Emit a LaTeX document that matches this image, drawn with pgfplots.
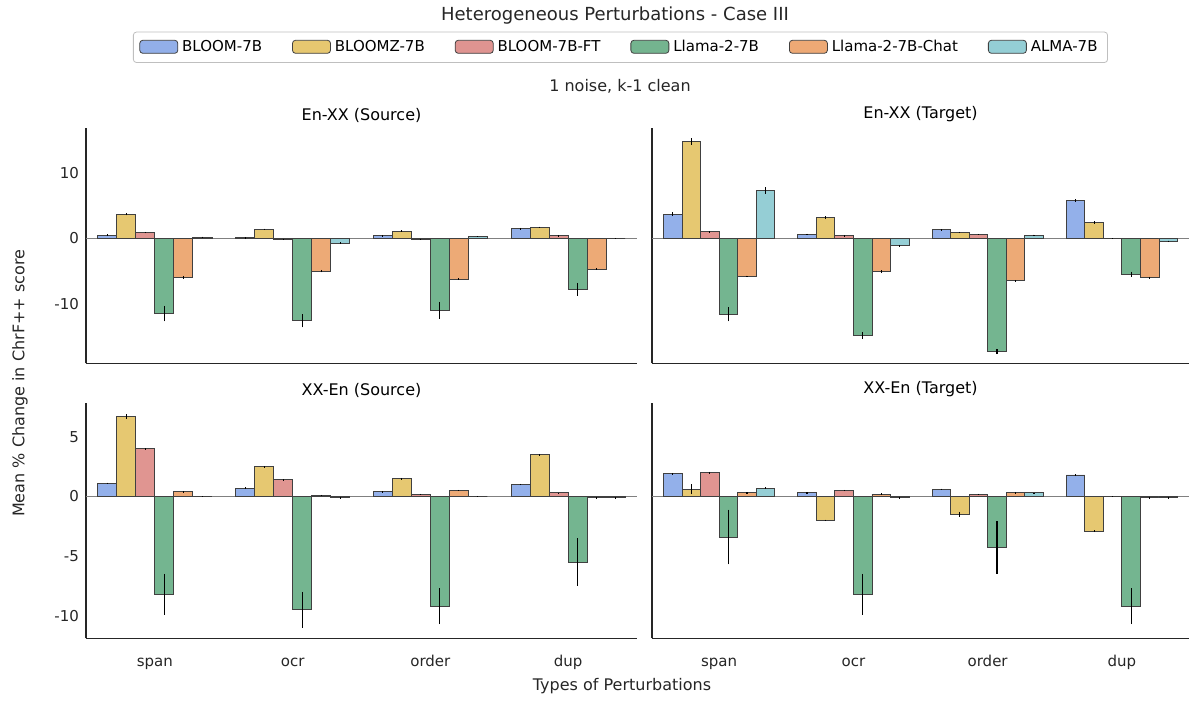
\documentclass[border=0pt]{standalone}
\usepackage{pgfplots}
\usepackage{pgfplotstable}
\pgfplotsset{compat=1.18}
\usepackage{fontspec}
\setmainfont{DejaVu Sans}
\definecolor{cA}{RGB}{128,162,230}
\definecolor{cB}{RGB}{226,190,88}
\definecolor{cC}{RGB}{218,130,126}
\definecolor{cD}{RGB}{92,168,124}
\definecolor{cE}{RGB}{234,155,94}
\definecolor{cF}{RGB}{130,198,206}
\pgfplotstableread{
x a ea b eb c ec d ed e ee f ef
0 0.5 0.1 3.7 0.2 0.9 0.1 -11.5 1.2 -6.0 0.2 0.2 0.05
1 0.1 0.05 1.4 0.1 -0.1 0.05 -12.6 1.0 -5.0 0.2 -0.7 0.1
2 0.4 0.1 1.1 0.1 -0.1 0.05 -11.0 1.3 -6.2 0.1 0.3 0.05
3 1.5 0.1 1.7 0.1 0.4 0.05 -7.8 1.0 -4.7 0.1 0.0 0.05
}\TL
\pgfplotstableread{
x a ea b eb c ec d ed e ee f ef
0 3.7 0.3 14.8 0.5 1.0 0.1 -11.6 1.1 -5.8 0.1 7.3 0.5
1 0.6 0.1 3.2 0.2 0.4 0.05 -14.8 0.5 -5.1 0.2 -1.1 0.1
2 1.3 0.1 0.9 0.1 0.6 0.05 -17.3 0.4 -6.5 0.1 0.5 0.05
3 5.8 0.2 2.4 0.2 0.0 0.05 -5.5 0.4 -6.0 0.1 -0.4 0.05
}\TR
\pgfplotstableread{
x a ea b eb c ec d ed e ee f ef
0 1.1 0.05 6.7 0.2 4.0 0.05 -8.2 1.7 0.4 0.05 0.0 0.02
1 0.7 0.05 2.5 0.05 1.4 0.05 -9.5 1.5 0.1 0.02 -0.1 0.02
2 0.4 0.05 1.5 0.05 0.2 0.02 -9.2 1.5 0.5 0.05 0.0 0.02
3 1.0 0.05 3.5 0.05 0.3 0.02 -5.5 2.0 -0.1 0.02 -0.1 0.02
}\BL
\pgfplotstableread{
x a ea b eb c ec d ed e ee f ef
0 1.9 0.05 0.6 0.4 2.0 0.05 -3.4 2.3 0.3 0.05 0.7 0.05
1 0.3 0.05 -2.0 0.05 0.5 0.05 -8.2 1.7 0.2 0.05 -0.1 0.02
2 0.6 0.05 -1.5 0.2 0.2 0.02 -4.3 2.2 0.3 0.05 0.3 0.02
3 1.8 0.05 -2.9 0.05 0.0 0.02 -9.2 1.5 -0.1 0.02 -0.1 0.02
}\BR
\pgfplotsset{
 panel/.style={scale only axis, height=117.5pt, xmin=-0.5, xmax=3.5,
  ybar, axis x line*=bottom, axis y line*=left, axis line style={black!85, line width=0.6pt},
  major tick length=0pt, xtick={0,1,2,3}, xticklabels={span,ocr,order,dup},
  tick label style={font=\fontsize{7.5}{9}\selectfont, text=black!85},
  xticklabel style={text height=1.6ex, text depth=0.3ex, yshift=-2pt},
  /pgf/number format/assume math mode=true,
  title style={font=\fontsize{8}{9}\selectfont, yshift=-6.5pt},
  every axis plot/.append style={draw=black!75, line width=0.4pt, fill opacity=0.85,
   error bars/y dir=both, error bars/y explicit, error bars/error mark=none,
   error bars/error bar style={black, line width=0.6pt, opacity=1}},
  extra y ticks={0}, extra y tick labels={}, extra y tick style={grid=major, major grid style={gray, line width=0.4pt}},
 },
 toprow/.style={ymin=-19.1, ymax=16.8, ytick={-10,0,10}},
 botrow/.style={ymin=-11.9, ymax=7.8, ytick={-10,-5,0,5}},
}
\newcommand\bars[1]{%
 \addplot[fill=cA, bar width=0.138, bar shift=-0.345] table[x=x,y=a,y error=ea]{#1};
 \addplot[fill=cB, bar width=0.138, bar shift=-0.207] table[x=x,y=b,y error=eb]{#1};
 \addplot[fill=cC, bar width=0.138, bar shift=-0.069] table[x=x,y=c,y error=ec]{#1};
 \addplot[fill=cD, bar width=0.138, bar shift=0.069] table[x=x,y=d,y error=ed]{#1};
 \addplot[fill=cE, bar width=0.138, bar shift=0.207] table[x=x,y=e,y error=ee]{#1};
 \addplot[fill=cF, bar width=0.138, bar shift=0.345] table[x=x,y=f,y error=ef]{#1};
}
\begin{document}
\begin{tikzpicture}
\path (0,0) rectangle (601.5pt,-349.5pt);
\begin{axis}[panel, toprow, width=275.5pt, at={(43pt,-64pt)}, anchor=north west,
  xticklabels={}, title={En-XX (Source)},
  legend columns=6, legend style={at={(0.970,1.345)}, anchor=center, font=\fontsize{7.5}{9}\selectfont,
   draw=black!25, rounded corners=1.5pt, /tikz/every even column/.append style={column sep=13pt}},
  legend image code/.code={\draw[#1] (0pt,-3pt) rectangle (19pt,3.5pt);}]
\bars{\TL}
\legend{BLOOM-7B,BLOOMZ-7B,BLOOM-7B-FT,Llama-2-7B,Llama-2-7B-Chat,ALMA-7B}
\end{axis}
\begin{axis}[panel, toprow, width=268.5pt, at={(326pt,-64pt)}, anchor=north west,
  xticklabels={}, yticklabels={}, title={En-XX (Target)}]
\bars{\TR}
\end{axis}
\begin{axis}[panel, botrow, width=275.5pt, at={(43pt,-201.5pt)}, anchor=north west,
  title={XX-En (Source)}]
\bars{\BL}
\end{axis}
\begin{axis}[panel, botrow, width=268.5pt, at={(326pt,-201.5pt)}, anchor=north west,
  yticklabels={}, title={XX-En (Target)}]
\bars{\BR}
\end{axis}
\node[font=\fontsize{9}{10}\selectfont, text=black!85] at (307.5pt,-7.5pt) {Heterogeneous Perturbations - Case III};
\node[font=\fontsize{8}{9}\selectfont, text=black!85] at (310pt,-43pt) {1 noise, k-1 clean};
\node[font=\fontsize{8}{9}\selectfont, text=black!85] at (311pt,-343pt) {Types of Perturbations};
\node[font=\fontsize{8}{9}\selectfont, text=black!85, rotate=90] at (10pt,-191.5pt) {Mean \% Change in ChrF++ score};
\end{tikzpicture}
\end{document}
